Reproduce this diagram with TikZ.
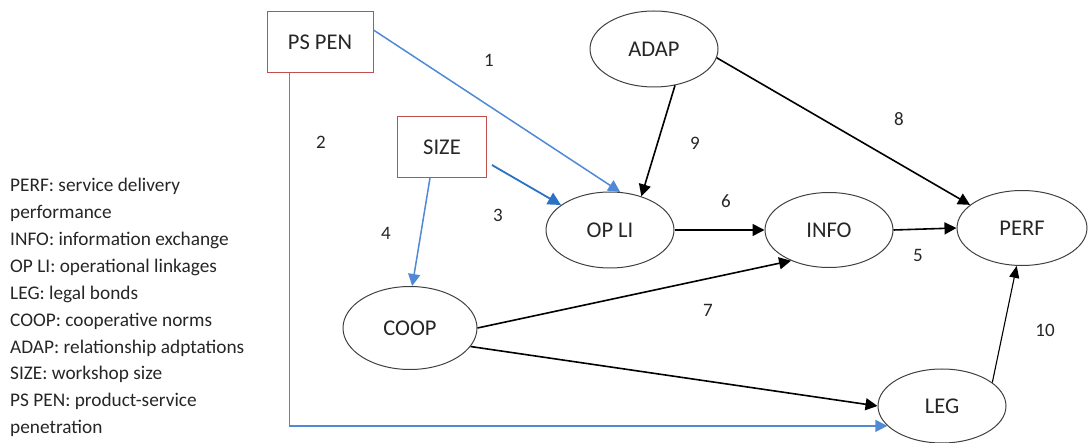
\documentclass[tikz,border=0pt]{standalone}
\usepackage{fontspec}
\setmainfont{Carlito}
\usetikzlibrary{shapes.geometric,arrows.meta,calc}
\definecolor{txt}{HTML}{262626}
\definecolor{boxred}{HTML}{C0504D}
\definecolor{lblue}{HTML}{5089D6}
\definecolor{dblue}{HTML}{2A72C4}
\definecolor{ellgray}{HTML}{404040}
\tikzset{
  rbox/.style={draw=boxred, line width=0.9pt, minimum width=#1, text=txt, font=\fontsize{22.5}{27}\selectfont, inner sep=0pt},
  ell/.style={draw=ellgray, ellipse, line width=1pt, text=txt, font=\fontsize{22.5}{27}\selectfont, inner sep=0pt},
  num/.style={text=txt, font=\fontsize{19}{23}\selectfont},
  blk/.style={draw=black, line width=1.6pt, -{Triangle[length=12pt,width=12pt]}},
  thin/.style={draw=black, line width=1.1pt, -{Triangle[length=12pt,width=10pt]}},
  lb/.style={draw=lblue, line width=1.5pt, -{Triangle[length=12pt,width=12pt]}},
  db/.style={draw=dblue, line width=1.8pt, -{Triangle[length=13pt,width=13pt]}},
}
\begin{document}
\begin{tikzpicture}[x=1pt,y=-1pt]
\useasboundingbox (0,0) rectangle (1088,443);
% boxes
\node[rbox=106pt, minimum height=61pt] (psp) at (320,42) {PS PEN};
\node[rbox=89pt, minimum height=61pt] (size) at (442,147) {SIZE};
% ellipses
\node[ell, minimum width=128pt, minimum height=76pt] (adap) at (654,49) {ADAP};
\node[ell, minimum width=128pt, minimum height=76pt] (opli) at (610,230) {OP LI};
\node[ell, minimum width=128pt, minimum height=75pt] (info) at (829,230) {INFO};
\node[ell, minimum width=130pt, minimum height=75pt] (perf) at (1022,228) {PERF};
\node[ell, minimum width=134pt, minimum height=83pt] (coop) at (410,328) {COOP};
\node[ell, minimum width=128pt, minimum height=74pt] (leg) at (942,406) {LEG};
% legend
\node[anchor=north west, align=left, text=txt, inner sep=0pt, font=\fontsize{19.3}{26.9}\selectfont] (legend) at (10,178)
{PERF: service delivery\\performance\\INFO: information exchange\\OP LI: operational linkages\\LEG: legal bonds\\COOP: cooperative norms\\ADAP: relationship adptations\\SIZE: workshop size\\PS PEN: product-service\\penetration};
% connectors
\coordinate (p1) at ($(psp.east)+(0,-12)$);
\draw[lb] (p1) -- (opli.75);
\coordinate (p2) at ($(psp.south west)+(23,0)$);
\draw[lb] (p2) |- (leg.200);
\coordinate (s3) at ($(size.east)+(5,18)$);
\draw[db] (s3) -- (opli.153);
\coordinate (s4) at ($(size.south)+(-12,0)$);
\draw[lb] (s4) -- (coop.87);
\draw[blk] (opli.east) -- (info.west);
\draw[blk] (info.east) -- (perf.west);
\draw[blk] (coop.east) -- (info.219);
\draw[blk] (adap.-8) -- (perf.156);
\draw[blk] (adap.-60) -- (opli.47);
\draw[blk] (coop.-17) -- (leg.west);
\draw[thin] (leg.25) -- (perf.-98);
% labels
\node[num] (n1) at (489,60) {1};
\node[num] (n2) at (321,142) {2};
\node[num] (n3) at (498,215) {3};
\node[num] (n4) at (386,233) {4};
\node[num] (n5) at (918,255) {5};
\node[num] (n6) at (726,201) {6};
\node[num] (n7) at (708,310) {7};
\node[num] (n8) at (899,119) {8};
\node[num] (n9) at (695,143) {9};
\node[num] (n10) at (1045,330) {10};
\end{tikzpicture}
\end{document}
